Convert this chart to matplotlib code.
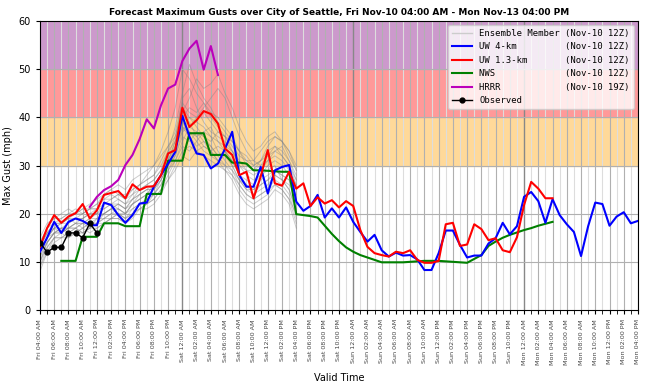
import numpy as np
import pandas as pd
import matplotlib
matplotlib.use("Agg")
import matplotlib.pyplot as plt

# hourly valid times, Fri Nov-10 04:00 AM .. Mon Nov-13 04:00 PM
times = pd.date_range("2017-11-10 04:00", "2017-11-13 16:00", freq="h")
hours = np.arange(len(times))

uw4 = [12.1, 15, 18.3, 16, 18.3, 19, 18.5, 17.6, 17.6, 22.3, 21.8, 19.7, 18.1, 19.7, 22.1,
       22.3, 25.6, 28, 30.4, 32.8, 40.3, 36, 32.5, 32.2, 29.4, 30.4, 33.5, 37, 28, 25.6,
       25.6, 29.7, 24.2, 29, 29.7, 30.1, 22.5, 20.6, 21.6, 23.9, 19.2, 21.1, 19.2, 21.3,
       18.3, 16.2, 14.2, 15.6, 12.4, 11.1, 11.9, 11.3, 11.4, 10.5, 8.3, 8.3, 11.8, 16.5,
       16.5, 13.5, 10.9, 11.3, 11.3, 13.8, 14.9, 18.1, 15.7, 17.4, 23.5, 24.5, 22.6, 18.1,
       23, 19.7, 17.8, 16.2, 11.2, 17.4, 22.3, 22, 17.5, 19.4, 20.3, 18, 18.5]

uw13 = [13.1, 17, 19.7, 18.1, 19.4, 20.1, 22, 19, 20.7, 23.9, 24.3, 24.7, 23.2, 26.1, 24.9,
        25.6, 25.7, 28, 32.5, 33.2, 42, 38, 39.4, 41.3, 40.7, 38.7, 33.5, 32.2, 28, 28.7,
        23.2, 27.7, 33.2, 26.3, 25.8, 28.7, 25.2, 26.3, 21.6, 23.4, 22.1, 22.8, 21.3, 22.6,
        21.6, 16.6, 13.1, 11.8, 11.4, 11.1, 12.1, 11.8, 12.4, 10.4, 9.8, 9.8, 10.2, 17.8,
        18.1, 13.3, 13.6, 17.8, 16.8, 14.5, 14.9, 12.4, 12, 15.1, 21.8, 26.6, 25.2, 23.2, 23.2]

nws_start = 3
nws = [10.2, 10.2, 10.2, 15.2, 15.2, 15.2, 18, 18, 18, 17.4, 17.4, 17.4, 24.1, 24.1, 24.1,
       31, 31, 31, 36.7, 36.7, 36.7, 32.2, 32.2, 32.2, 30.6, 30.6, 30.4, 29, 29, 28.9, 28.8,
       28.7, 28.7, 19.9, 19.7, 19.5, 19.2, 17.5, 15.8, 14.3, 13, 12.1, 11.4, 10.9, 10.4, 9.9,
       9.9, 9.9, 9.9, 10, 10.1, 10.2, 10.2, 10.2, 10.1, 10, 9.9, 9.8, 10.6, 11.4, 13.3, 14.2,
       15, 15.6, 16.1, 16.6, 17, 17.5, 17.9, 18.3]

hrrr_start = 7
hrrr = [21.4, 23.5, 24.9, 25.7, 27, 30.1, 32.2, 35.5, 39.6, 37.7, 42.5, 46, 46.8, 51.7,
        54.3, 55.9, 49.9, 54.8, 48.8]

observed = [14, 12, 13, 13, 16, 16, 15, 18, 16]

ensemble = [
    [12, 15, 17, 16, 17, 18, 17, 18, 18, 20, 21, 20, 19, 20, 22, 23, 24, 27, 30, 33, 38, 36, 34, 35, 33, 31, 32, 30, 27, 26, 25, 27, 28, 29, 28, 27, 22],
    [10, 14, 16, 17, 16, 17, 18, 17, 19, 19, 20, 21, 20, 22, 23, 24, 26, 28, 31, 35, 40, 39, 36, 34, 33, 34, 33, 31, 28, 27, 26, 28, 29, 30, 27, 25, 20],
    [14, 17, 18, 18, 19, 18, 19, 20, 20, 21, 22, 22, 21, 23, 24, 25, 25, 28, 30, 32, 36, 35, 37, 36, 34, 32, 30, 29, 27, 25, 24, 26, 27, 28, 27, 26, 24],
    [8, 12, 15, 15, 16, 16, 17, 16, 17, 18, 19, 19, 18, 19, 21, 22, 23, 25, 28, 31, 34, 33, 35, 37, 36, 33, 31, 29, 26, 24, 23, 24, 25, 27, 26, 24, 19],
    [13, 16, 18, 19, 20, 21, 20, 21, 22, 23, 24, 23, 22, 24, 25, 26, 27, 29, 33, 38, 45, 51, 47, 44, 42, 39, 37, 35, 33, 32, 30, 31, 33, 34, 32, 30, 27],
    [11, 15, 16, 16, 17, 17, 16, 17, 18, 19, 19, 20, 20, 21, 22, 22, 24, 26, 29, 32, 37, 40, 38, 36, 35, 37, 36, 33, 30, 28, 27, 28, 30, 31, 30, 28, 25],
    [15, 18, 19, 19, 20, 20, 21, 21, 22, 24, 25, 26, 25, 27, 28, 29, 30, 32, 34, 36, 41, 44, 48, 46, 47, 49, 45, 42, 38, 35, 33, 34, 36, 37, 35, 33, 30],
    [9, 13, 15, 16, 15, 16, 17, 18, 18, 19, 20, 20, 19, 21, 22, 23, 24, 26, 29, 31, 35, 38, 37, 35, 34, 32, 33, 31, 28, 26, 24, 25, 26, 28, 27, 25, 21],
    [12, 14, 16, 17, 17, 18, 18, 19, 19, 20, 21, 22, 21, 22, 24, 25, 25, 27, 30, 33, 39, 37, 35, 33, 32, 31, 30, 28, 25, 23, 22, 23, 24, 26, 25, 23, 18],
    [13, 16, 17, 18, 18, 19, 19, 20, 21, 21, 22, 21, 20, 22, 23, 24, 26, 28, 32, 36, 42, 40, 39, 38, 36, 35, 34, 33, 31, 29, 29, 30, 31, 33, 34, 31, 28],
    [10, 13, 15, 15, 16, 17, 16, 17, 18, 18, 19, 20, 19, 20, 21, 22, 23, 25, 27, 30, 33, 34, 33, 32, 31, 30, 29, 27, 24, 22, 21, 22, 23, 25, 24, 22, 17],
    [14, 17, 19, 20, 21, 20, 21, 22, 23, 24, 25, 24, 23, 25, 26, 27, 28, 30, 33, 35, 40, 42, 41, 43, 40, 38, 36, 34, 32, 31, 31, 33, 35, 36, 35, 32, 29],
    [11, 14, 16, 17, 17, 17, 18, 18, 19, 20, 21, 21, 20, 22, 23, 24, 25, 27, 30, 34, 38, 37, 36, 37, 38, 35, 33, 30, 27, 25, 25, 26, 27, 29, 28, 27, 23],
    [12, 15, 17, 17, 18, 19, 19, 20, 20, 22, 22, 23, 22, 23, 25, 26, 27, 29, 31, 35, 44, 46, 42, 39, 37, 36, 35, 33, 30, 29, 28, 29, 31, 32, 31, 29, 26],
    [9, 12, 14, 15, 15, 16, 16, 17, 17, 18, 19, 19, 18, 20, 21, 21, 22, 24, 27, 29, 32, 31, 33, 34, 33, 31, 29, 28, 26, 24, 23, 24, 25, 26, 25, 23, 20],
    [13, 16, 18, 18, 19, 20, 20, 21, 21, 23, 23, 24, 24, 25, 26, 27, 28, 31, 34, 37, 43, 41, 40, 42, 44, 46, 44, 40, 36, 33, 31, 30, 32, 34, 33, 31, 27],
    [12, 15, 17, 18, 19, 19, 20, 21, 21, 22, 23, 24, 23, 24, 26, 28, 30, 33, 37, 42, 50, 48, 45, 43, 41, 40, 38, 36, 33, 31, 30, 31, 32, 33, 32, 30, 26],
    [10, 14, 16, 16, 17, 18, 18, 19, 20, 20, 21, 22, 21, 23, 24, 25, 26, 28, 31, 34, 37, 38, 40, 41, 39, 37, 36, 35, 33, 30, 29, 31, 34, 36, 35, 33, 29],
]

# wind category bands
bands = [(30, 40, "#ffd999"), (40, 50, "#ff9999"), (50, 60, "#cc99cc")]

fig = plt.figure(figsize=(6.52, 3.91), dpi=100)
ax = fig.add_axes([0.0613, 0.2072, 0.9172, 0.7390])

for lo, hi, c in bands:
    ax.axhspan(lo, hi, color=c, zorder=0)

for h in hours:
    if times[h].hour == 0:
        ax.axvline(h, color="#888888", lw=1.0, zorder=1)
    elif h % 2 == 0:
        ax.axvline(h, color="#b0b0b0", lw=0.8, zorder=1)
    else:
        ax.axvline(h, color="#dddddd", lw=0.8, zorder=1)
for v in range(10, 60, 10):
    ax.axhline(v, color="#b0b0b0", lw=0.8, zorder=1)

for k, m in enumerate(ensemble):
    ax.plot(hours[:len(m)], m, color="gray", lw=0.7, alpha=0.4, zorder=2,
            label="Ensemble Member (Nov-10 12Z)" if k == 0 else None)

ax.plot(hours[:len(uw4)], uw4, color="blue", lw=1.5, zorder=4,
        label="UW 4-km         (Nov-10 12Z)")
ax.plot(hours[:len(uw13)], uw13, color="red", lw=1.5, zorder=4,
        label="UW 1.3-km       (Nov-10 12Z)")
ax.plot(hours[nws_start:nws_start + len(nws)], nws, color="green", lw=1.5, zorder=3,
        label="NWS             (Nov-10 12Z)")
ax.plot(hours[hrrr_start:hrrr_start + len(hrrr)], hrrr, color="#bb00bb", lw=1.5, zorder=4,
        label="HRRR            (Nov-10 19Z)")
ax.plot(hours[:len(observed)], observed, color="black", lw=1.0, marker="o", ms=3.5, zorder=5,
        label="Observed")

leg = ax.legend(loc="upper right", prop={"family": "DejaVu Sans Mono", "size": 6.4},
                framealpha=0.8, fancybox=True, borderpad=0.4, labelspacing=0.5,
                handlelength=2.3)
# the light legend entry for ensemble members
leg.get_lines()[0].set_color("#cccccc")
leg.get_lines()[0].set_alpha(1.0)
leg.get_lines()[0].set_linewidth(1.0)

ax.set_xlim(0, hours[-1])
ax.set_ylim(0, 60)
ax.set_yticks(range(0, 61, 10))
ax.set_xticks(hours, minor=True)
ax.set_xticks(hours[::2])
ax.set_xticklabels([t.strftime("%a %I:%M %p") for t in times[::2]], rotation=90,
                   fontsize=4.6, color="#444444")
ax.tick_params(axis="y", labelsize=7, length=3)
ax.tick_params(axis="x", which="both", length=3)

ax.set_ylabel("Max Gust (mph)", fontsize=7)
ax.set_xlabel("Valid Time", fontsize=7, labelpad=6)
ax.set_title("Forecast Maximum Gusts over City of Seattle, Fri Nov-10 04:00 AM - Mon Nov-13 04:00 PM",
             fontsize=6.5, fontweight="bold", pad=4)

fig.savefig("out.png", dpi=100)
